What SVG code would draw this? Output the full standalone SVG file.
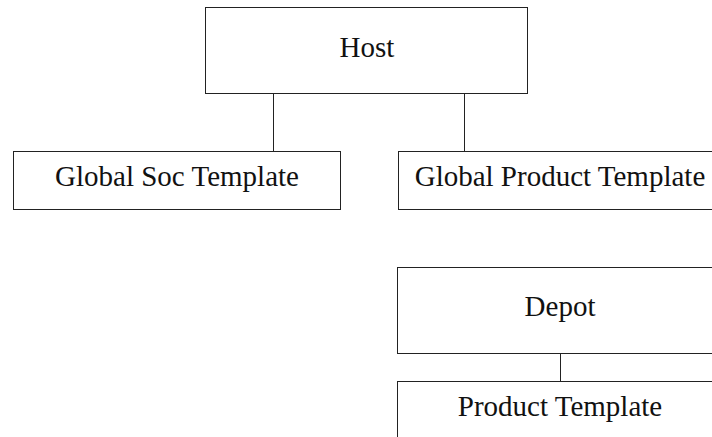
<svg xmlns="http://www.w3.org/2000/svg" width="712" height="437" viewBox="0 0 712 437">
<style>
.box{fill:#fff;stroke:#222;stroke-width:1}
.lbl{font-family:"Liberation Serif","Times New Roman",serif;font-size:29px;fill:#111;text-anchor:middle}
.conn{stroke:#222;stroke-width:1;fill:none}
</style>
<rect width="712" height="437" fill="#fff"/>
<g id="connectors">
<line class="conn" x1="273.5" y1="93.5" x2="273.5" y2="151.5"/>
<line class="conn" x1="464.5" y1="93.5" x2="464.5" y2="151.5"/>
<line class="conn" x1="560.5" y1="353.5" x2="560.5" y2="381.5"/>
</g>
<g id="host"><rect class="box" x="205.5" y="7.5" width="322" height="86"/><text class="lbl" x="367" y="57">Host</text></g>
<g id="global-soc-template"><rect class="box" x="13.5" y="151.5" width="327" height="58"/><text class="lbl" x="177" y="186">Global Soc Template</text></g>
<g id="global-product-template"><rect class="box" x="398.5" y="151.5" width="330" height="58"/><text class="lbl" x="560" y="186">Global Product Template</text></g>
<g id="depot"><rect class="box" x="397.5" y="267.5" width="330" height="86"/><text class="lbl" x="560" y="316">Depot</text></g>
<g id="product-template"><rect class="box" x="397.5" y="381.5" width="330" height="80"/><text class="lbl" x="560" y="416">Product Template</text></g>
</svg>
